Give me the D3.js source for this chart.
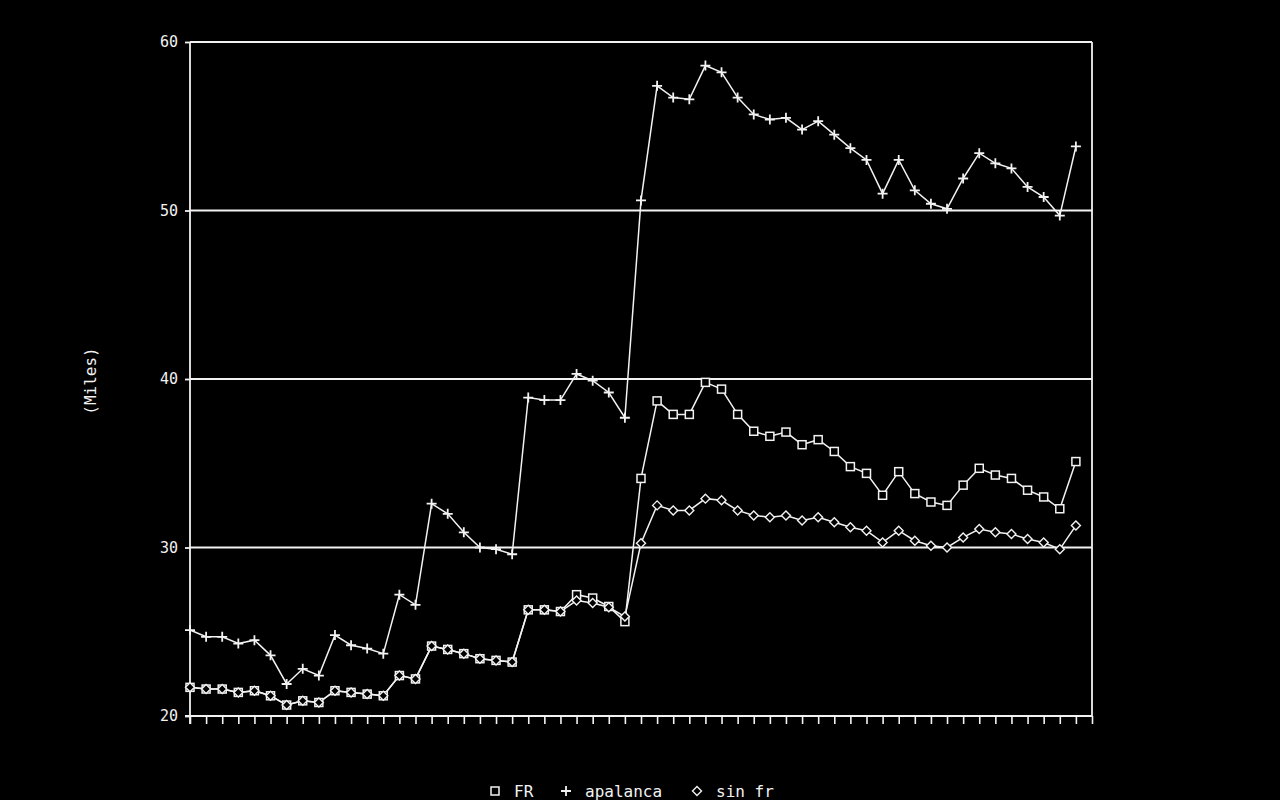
<!DOCTYPE html>
<html><head><meta charset="utf-8">
<script src="https://cdn.jsdelivr.net/npm/d3@7"></script>
<style>html,body{margin:0;padding:0;background:#000;}svg{display:block;}</style>
</head><body>
<svg id="chart" width="1280" height="800"></svg>
<script>
const fr = [21.7,21.6,21.6,21.4,21.5,21.2,20.65,20.9,20.8,21.5,21.4,21.3,21.2,22.4,22.2,24.15,23.95,23.7,23.4,23.3,23.2,26.3,26.3,26.2,27.2,27.0,26.5,25.6,34.1,38.7,37.9,37.9,39.8,39.4,37.9,36.9,36.6,36.85,36.1,36.4,35.7,34.8,34.4,33.1,34.5,33.2,32.7,32.5,33.7,34.7,34.3,34.1,33.4,33.0,32.3,35.1];
const apalanca = [25.1,24.7,24.7,24.3,24.5,23.6,21.9,22.8,22.4,24.8,24.2,24.0,23.7,27.2,26.6,32.6,32.0,30.9,30.0,29.9,29.6,38.9,38.75,38.75,40.3,39.9,39.2,37.7,50.6,57.4,56.7,56.6,58.6,58.2,56.7,55.7,55.4,55.5,54.8,55.3,54.5,53.7,53.0,51.0,53.0,51.2,50.4,50.1,51.9,53.4,52.8,52.5,51.4,50.8,49.7,53.8];
const sinfr = [21.7,21.6,21.6,21.4,21.5,21.2,20.65,20.9,20.8,21.5,21.4,21.3,21.2,22.4,22.2,24.15,23.95,23.7,23.4,23.3,23.2,26.3,26.3,26.2,26.85,26.7,26.45,25.9,30.25,32.5,32.2,32.2,32.9,32.8,32.2,31.9,31.8,31.9,31.6,31.8,31.5,31.2,31.0,30.3,31.0,30.4,30.1,30.0,30.6,31.1,30.9,30.8,30.5,30.3,29.9,31.3];
const yTicks = [20,30,40,50,60];
const gridValues = [30,40,50,60];
const yLabel = "(Miles)";
const legendItems = [{name:"FR", shape:"square"},{name:"apalanca", shape:"plus"},{name:"sin fr", shape:"diamond"}];

const svg = d3.select("#chart");
const font = "'DejaVu Sans Mono', 'Liberation Mono', monospace";
const pL = 190, pR = 1092, pT = 42, pB = 716;
const x = d3.scaleLinear().domain([0, 56]).range([pL, pR]);
const y = d3.scaleLinear().domain([20, 60]).range([pB, pT]);
const col = "#f2f2f2";

// gridlines
svg.append("g").selectAll("line").data(gridValues).join("line")
  .attr("x1", pL).attr("x2", pR).attr("y1", d => y(d)).attr("y2", d => y(d))
  .attr("stroke", col).attr("stroke-width", 1.8);
// right border
svg.append("line").attr("x1", pR).attr("x2", pR).attr("y1", pT).attr("y2", pB)
  .attr("stroke", col).attr("stroke-width", 1.8);

// left axis
const yAxis = d3.axisLeft(y).tickValues(yTicks).tickSize(5).tickPadding(7);
const gy = svg.append("g").attr("transform", `translate(${pL},0)`).call(yAxis);
gy.select(".domain").remove();
gy.selectAll(".tick line").attr("stroke", col).attr("stroke-width", 1.8);
gy.selectAll(".tick text").attr("fill", col).attr("font-family", font).attr("font-size", 15);
svg.append("line").attr("x1", pL).attr("x2", pL).attr("y1", pT).attr("y2", pB + 8)
  .attr("stroke", col).attr("stroke-width", 1.8);

// bottom axis
const xAxis = d3.axisBottom(x).tickValues(d3.range(0, 57)).tickSize(8).tickFormat("");
const gx = svg.append("g").attr("transform", `translate(0,${pB})`).call(xAxis);
gx.select(".domain").remove();
gx.selectAll(".tick line").attr("stroke", col).attr("stroke-width", 1.6);
svg.append("line").attr("x1", pL - 5).attr("x2", pR).attr("y1", pB).attr("y2", pB)
  .attr("stroke", col).attr("stroke-width", 1.8);

// y label
svg.append("text").attr("transform", "translate(96,381) rotate(-90)")
  .attr("text-anchor", "middle").attr("fill", col).attr("font-family", font).attr("font-size", 16)
  .text(yLabel);

const line = d3.line().x((d, i) => x(i)).y(d => y(d));

function marker(g, shape, cx, cy) {
  if (shape === "square") {
    g.append("rect").attr("x", cx - 4).attr("y", cy - 4).attr("width", 8).attr("height", 8)
      .attr("fill", "#000").attr("stroke", col).attr("stroke-width", 1.5);
  } else if (shape === "plus") {
    g.append("path").attr("d", `M${cx-5},${cy}H${cx+5}M${cx},${cy-5}V${cy+5}`)
      .attr("stroke", col).attr("stroke-width", 1.8).attr("fill", "none");
  } else {
    g.append("path").attr("d", `M${cx},${cy-4.5}L${cx+4.5},${cy}L${cx},${cy+4.5}L${cx-4.5},${cy}Z`)
      .attr("fill", "#000").attr("stroke", col).attr("stroke-width", 1.4);
  }
}

const series = [
  {data: apalanca, shape: "plus"},
  {data: fr, shape: "square"},
  {data: sinfr, shape: "diamond"}
];
series.forEach(s => {
  svg.append("path").datum(s.data).attr("d", line).attr("fill", "none")
    .attr("stroke", col).attr("stroke-width", 1.5);
});
series.forEach(s => {
  const g = svg.append("g");
  s.data.forEach((d, i) => marker(g, s.shape, x(i), y(d)));
});

// legend
const legendX = [495, 566, 697];
const legendG = svg.append("g");
legendItems.forEach((it, k) => {
  marker(legendG, it.shape, legendX[k], 791);
  legendG.append("text").attr("x", legendX[k] + 19).attr("y", 797)
    .attr("fill", col).attr("font-family", font).attr("font-size", 16).text(it.name);
});
</script>
</body></html>
